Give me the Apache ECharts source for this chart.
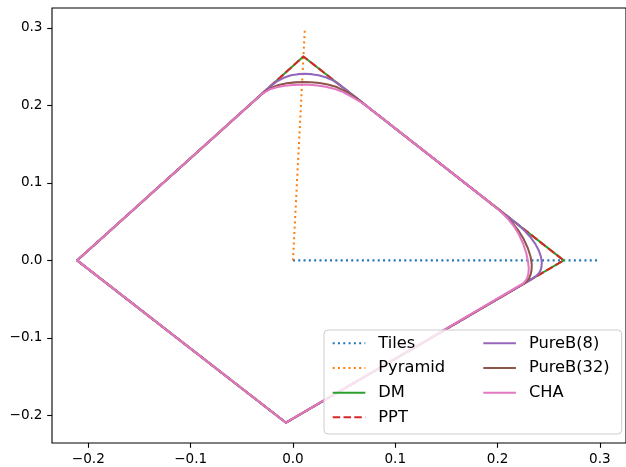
<!DOCTYPE html>
<html>
<head>
<meta charset="utf-8">
<script src="https://cdn.jsdelivr.net/npm/echarts@6/dist/echarts.min.js"></script>
<style>
    html, body { margin: 0; padding: 0; background: #fff; }
    #chart { width: 626px; height: 467px; }
</style>
</head>
<body>
<div id="chart"></div>
<script>
// axis ticks
const xTicks = [-0.2, -0.1, 0.0, 0.1, 0.2, 0.3];
const yTicks = [-0.2, -0.1, 0.0, 0.1, 0.2, 0.3];

// [x, y] points
const tiles = [[0, 0], [0.3, 0]];
const pyramid = [[0, 0], [0.0117, 0.3]];
const dm = [[-0.211, 0], [0.0102, 0.263], [0.2646, 0], [-0.0068, -0.2093], [-0.211, 0]];
const ppt = [[-0.211, 0], [0.0102, 0.263], [0.2646, 0], [-0.0068, -0.2093], [-0.211, 0]];
const pureB8 = [
    [-0.211, 0],
    [-0.022, 0.2248], [-0.016, 0.2306], [-0.009, 0.2355], [-0.002, 0.2387], [0.005, 0.2402],
    [0.011, 0.2406], [0.018, 0.2402], [0.025, 0.2388], [0.032, 0.2362], [0.039, 0.2322], [0.046, 0.2260],
    [0.220, 0.0461], [0.226, 0.0388], [0.232, 0.0302], [0.237, 0.0210], [0.2405, 0.0120],
    [0.2425, 0.0040], [0.2432, -0.0030], [0.2428, -0.0090], [0.2418, -0.0135], [0.2402, -0.0170],
    [0.2382, -0.0196], [0.2360, -0.0216], [0.2335, -0.0240],
    [-0.0068, -0.2093], [-0.211, 0]
];
const pureB32 = [
    [-0.211, 0],
    [-0.032, 0.2128], [-0.027, 0.2180], [-0.021, 0.2228], [-0.014, 0.2262], [-0.006, 0.2284],
    [0.002, 0.2296], [0.010, 0.2300], [0.018, 0.2297], [0.026, 0.2287], [0.034, 0.2268],
    [0.042, 0.2240], [0.048, 0.2203], [0.054, 0.2160], [0.060, 0.2110], [0.066, 0.2053],
    [0.200, 0.0668], [0.207, 0.0585], [0.214, 0.0490], [0.220, 0.0390], [0.2255, 0.0275],
    [0.2295, 0.0160], [0.2322, 0.0050], [0.2334, -0.0050], [0.2332, -0.0125], [0.2322, -0.0185],
    [0.2308, -0.0228], [0.2290, -0.0262], [0.2270, -0.0290],
    [-0.0068, -0.2093], [-0.211, 0]
];
const cha = [
    [-0.211, 0],
    [-0.034, 0.2104], [-0.029, 0.2158], [-0.023, 0.2203], [-0.016, 0.2234], [-0.008, 0.2253],
    [0.000, 0.2262], [0.008, 0.2266], [0.016, 0.2264], [0.024, 0.2256], [0.032, 0.2240],
    [0.040, 0.2215], [0.047, 0.2182], [0.053, 0.2143], [0.059, 0.2100], [0.065, 0.2050], [0.070, 0.2012],
    [0.196, 0.0709], [0.203, 0.0630], [0.210, 0.0540], [0.216, 0.0440], [0.221, 0.0330],
    [0.2250, 0.0215], [0.2280, 0.0095], [0.2298, -0.0020], [0.2305, -0.0110], [0.2300, -0.0180],
    [0.2288, -0.0230], [0.2270, -0.0268], [0.2250, -0.0298], [0.2235, -0.0317],
    [-0.0068, -0.2093], [-0.211, 0]
];

const names = ['Tiles', 'Pyramid', 'DM', 'PPT', 'PureB(8)', 'PureB(32)', 'CHA'];
const colors = ['#1f77b4', '#ff7f0e', '#2ca02c', '#d62728', '#9467bd', '#8c564b', '#e377c2'];

(function () {
    'use strict';

    const font = 'DejaVu Sans';
    const dotted = [2, 3.3];
    const dashed = [7.5, 3.3];

    const fmt = function (v) {
        const s = Math.abs(v).toFixed(1);
        return v < -1e-9 ? '\u2212' + s : s;
    };

    const makeSeries = function (i, data, type) {
        return {
            name: names[i],
            type: 'line',
            data: data,
            symbol: 'none',
            animation: false,
            lineStyle: { color: colors[i], width: 2.05, type: type, join: 'round' },
            itemStyle: { color: colors[i] },
            z: 2 + i * 0.01
        };
    };

    const legendCommon = {
        orient: 'vertical',
        padding: 0,
        itemWidth: 32.6,
        itemHeight: 16,
        itemGap: 8.67,
        selectedMode: false,
        z: 10,
        itemStyle: { opacity: 0 },
        textStyle: { fontFamily: font, fontSize: 16.3, color: '#000', lineHeight: 16, padding: [0, 0, 0, 8] }
    };

    const axisCommon = {
        type: 'value',
        min: -0.2355, max: 0.3255,
        axisLine: { show: false, onZero: false },
        splitLine: { show: false }
    };

    const chart = echarts.init(document.getElementById('chart'), null, { renderer: 'canvas' });
    chart.setOption({
        backgroundColor: '#fff',
        animation: false,
        grid: {
            left: 52, top: 8, width: 576, height: 435,
            show: true, borderColor: '#000', borderWidth: 1.1, backgroundColor: 'transparent'
        },
        xAxis: Object.assign({}, axisCommon, {
            axisTick: { show: true, length: 4.8, lineStyle: { color: '#000', width: 1.1 }, customValues: xTicks },
            axisLabel: { customValues: xTicks, formatter: fmt, margin: 9, color: '#000', fontFamily: font, fontSize: 13.6 }
        }),
        yAxis: Object.assign({}, axisCommon, {
            axisTick: { show: true, length: 4.8, lineStyle: { color: '#000', width: 1.1 }, customValues: yTicks },
            axisLabel: { customValues: yTicks, formatter: fmt, margin: 9.5, color: '#000', fontFamily: font, fontSize: 13.6 }
        }),
        legend: [
            Object.assign({}, legendCommon, { left: 331.7, top: 335.3, data: names.slice(0, 4) }),
            Object.assign({}, legendCommon, { left: 482.3, top: 335.3, data: names.slice(4) })
        ],
        graphic: [{
            type: 'rect',
            z: 5,
            shape: { x: 324, y: 330, width: 297.7, height: 104, r: 4 },
            style: { fill: 'rgba(255,255,255,0.8)', stroke: '#cccccc', lineWidth: 1 }
        }],
        series: [
            makeSeries(0, tiles, dotted),
            makeSeries(1, pyramid, dotted),
            makeSeries(2, dm, 'solid'),
            makeSeries(3, ppt, dashed),
            makeSeries(4, pureB8, 'solid'),
            makeSeries(5, pureB32, 'solid'),
            makeSeries(6, cha, 'solid')
        ]
    });
})();
</script>
</body>
</html>
